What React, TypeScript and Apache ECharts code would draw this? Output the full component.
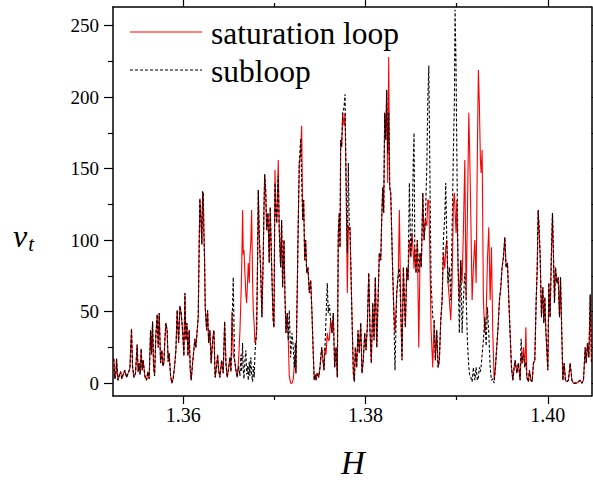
import React, { useEffect, useRef } from "react";
import * as echarts from "echarts";

const H = [
  1.35239, 1.3525, 1.35261, 1.35269, 1.35283, 1.35297, 1.35313, 1.35327, 1.35341, 1.3536,
  1.35379, 1.35396, 1.35415, 1.35433, 1.35444, 1.35459, 1.35477, 1.35495, 1.35506, 1.35517,
  1.35528, 1.35539, 1.3555, 1.35561, 1.35579, 1.35598, 1.35612, 1.35627, 1.35642, 1.35653,
  1.35664, 1.35675, 1.35686, 1.357, 1.35715, 1.35726, 1.35737, 1.35752, 1.35766, 1.35777,
  1.35788, 1.35799, 1.3581, 1.35824, 1.35835, 1.35846, 1.35862, 1.35876, 1.3589, 1.35906,
  1.3592, 1.35934, 1.3595, 1.35964, 1.35978, 1.35993, 1.36008, 1.36019, 1.3603, 1.36041,
  1.36052, 1.36066, 1.36077, 1.36088, 1.36103, 1.36117, 1.36128, 1.36139, 1.36154, 1.36165,
  1.36176, 1.36183, 1.36194, 1.36205, 1.36213, 1.3622, 1.36227, 1.36235, 1.36242, 1.36257,
  1.36268, 1.36279, 1.36293, 1.36307, 1.36323, 1.36337, 1.36351, 1.36367, 1.36378, 1.36389,
  1.36403, 1.36422, 1.36439, 1.36455, 1.36469, 1.36483, 1.36498, 1.36513, 1.36524, 1.36535,
  1.36549, 1.36564, 1.36579, 1.36593, 1.36608, 1.36623, 1.36634, 1.36641, 1.36652, 1.36659,
  1.36667, 1.36677, 1.36688, 1.36696, 1.36707, 1.36714, 1.36725, 1.36732, 1.36743, 1.36751,
  1.36762, 1.36769, 1.3678, 1.36787, 1.36798, 1.36806, 1.36817, 1.36824, 1.36835, 1.3685,
  1.36864, 1.36878, 1.36886, 1.36894, 1.36905, 1.36916, 1.3693, 1.36944, 1.36955, 1.36971,
  1.36982, 1.36988, 1.36996, 1.37007, 1.37018, 1.37026, 1.37032, 1.37043, 1.37054, 1.37069,
  1.3708, 1.37091, 1.37106, 1.37117, 1.37128, 1.37142, 1.37153, 1.37164, 1.37179, 1.37194,
  1.37208, 1.37219, 1.3723, 1.37237, 1.37252, 1.37263, 1.37274, 1.37289, 1.373, 1.37311,
  1.37322, 1.37333, 1.37344, 1.37355, 1.37369, 1.37384, 1.37399, 1.37413, 1.37427, 1.37438,
  1.37449, 1.37457, 1.37471, 1.37487, 1.37501, 1.3752, 1.37531, 1.37545, 1.37556, 1.37567,
  1.37581, 1.37592, 1.37603, 1.37618, 1.37633, 1.37647, 1.37662, 1.37677, 1.37691, 1.37702,
  1.37713, 1.37721, 1.37728, 1.37739, 1.3775, 1.37765, 1.37776, 1.37786, 1.37801, 1.37812,
  1.37823, 1.3783, 1.37849, 1.37867, 1.37878, 1.37889, 1.37904, 1.37918, 1.37932, 1.37948,
  1.37962, 1.37976, 1.37992, 1.38006, 1.3802, 1.38036, 1.3805, 1.38064, 1.3808, 1.38094,
  1.38108, 1.38124, 1.38138, 1.38152, 1.38168, 1.38178, 1.38189, 1.382, 1.38211, 1.38222,
  1.38233, 1.38244, 1.38255, 1.38266, 1.38277, 1.38288, 1.38299, 1.3831, 1.38324, 1.38343,
  1.38361, 1.38372, 1.38387, 1.38401, 1.38416, 1.38427, 1.38438, 1.38453, 1.38467, 1.38482,
  1.38497, 1.38511, 1.38525, 1.38533, 1.38541, 1.38555, 1.38569, 1.38585, 1.38599, 1.38613,
  1.38629, 1.38643, 1.38657, 1.38673, 1.38684, 1.38695, 1.38709, 1.3872, 1.38738, 1.38753,
  1.38767, 1.38782, 1.38797, 1.38811, 1.38826, 1.38841, 1.38855, 1.3887, 1.38881, 1.38892,
  1.38906, 1.38921, 1.38936, 1.3895, 1.38965, 1.38976, 1.38983, 1.38994, 1.39002, 1.39016,
  1.3903, 1.39046, 1.3906, 1.39074, 1.3909, 1.39104, 1.39118, 1.39134, 1.39145, 1.39156,
  1.3917, 1.39184, 1.392, 1.39214, 1.39228, 1.39239, 1.3925, 1.39261, 1.39269, 1.3928,
  1.39294, 1.39309, 1.39324, 1.39338, 1.39353, 1.39368, 1.39382, 1.39397, 1.39412, 1.39426,
  1.39441, 1.39455, 1.3947, 1.39485, 1.39499, 1.39514, 1.39529, 1.39543, 1.39558, 1.39573,
  1.39587, 1.39602, 1.39617, 1.39631, 1.39642, 1.39661, 1.39678, 1.39697, 1.39708, 1.39719,
  1.39733, 1.39749, 1.3976, 1.39771, 1.39788, 1.39799, 1.39815, 1.39829, 1.39843, 1.39858,
  1.39873, 1.39884, 1.39895, 1.39906, 1.39917, 1.39931, 1.39946, 1.39957, 1.39968, 1.39979,
  1.3999, 1.40001, 1.40012, 1.40026, 1.40041, 1.40052, 1.40063, 1.40074, 1.40085, 1.401,
  1.40114, 1.40129, 1.4014, 1.40155, 1.40166, 1.4018, 1.40194, 1.4021, 1.40227, 1.40246,
  1.40265, 1.40282, 1.40301, 1.4032, 1.40337, 1.40356, 1.40375, 1.40392, 1.40411, 1.40422,
  1.40436, 1.40451, 1.40466, 1.4048,
];

const saturationLoop = [
  17, 3, 6, 17, 2, 5, 8, 3, 6, 9,
  4, 7, 10, 38, 12, 4, 7, 27, 8, 14,
  6, 24, 9, 16, 5, 2, 8, 3, 37, 20,
  43, 12, 5, 33, 48, 25, 49, 14, 23, 12,
  14, 30, 42, 37, 15, 21, 5, 0, 3, 12,
  23, 51, 28, 54, 49, 37, 19, 63, 30, 42,
  19, 37, 10, 2, 14, 23, 31, 25, 37, 46,
  98, 129, 116, 97, 134, 133, 107, 85, 53, 37,
  51, 28, 37, 14, 30, 37, 4, 12, 20, 9,
  4, 16, 7, 43, 14, 4, 10, 18, 8, 50,
  20, 16, 9, 4, 16, 37, 60, 77, 121, 90,
  93, 77, 62, 56, 72, 84, 70, 88, 100, 121,
  70, 51, 40, 28, 30, 37, 90, 135, 102, 79,
  46, 88, 120, 146, 135, 107, 119, 84, 123, 81,
  55, 44, 39, 149, 120, 112, 123, 156, 107, 81,
  114, 67, 100, 60, 35, 49, 30, 5, 0, 0,
  3, 12, 20, 7, 67, 114, 154, 160, 180, 114,
  128, 86, 100, 77, 81, 63, 72, 49, 21, 2,
  6, 2, 7, 4, 11, 25, 18, 9, 25, 20,
  35, 30, 30, 44, 35, 49, 11, 25, 4, 105,
  119, 95, 170, 165, 189, 180, 189, 147, 63, 110,
  107, 109, 55, 7, 1, 25, 11, 37, 21, 42,
  7, 16, 35, 23, 39, 77, 37, 14, 56, 30,
  74, 25, 58, 91, 86, 114, 137, 119, 189, 170,
  205, 140, 228, 137, 133, 105, 77, 53, 35, 63,
  77, 121, 53, 16, 81, 58, 39, 81, 72, 100,
  88, 105, 90, 80, 95, 77, 100, 25, 91, 81,
  133, 100, 114, 110, 128, 128, 81, 37, 11, 44,
  16, 37, 11, 16, 44, 58, 91, 80, 95, 100,
  70, 58, 44, 70, 125, 133, 120, 105, 128, 81,
  58, 86, 70, 105, 156, 58, 116, 189, 156, 116,
  58, 81, 100, 70, 163, 219, 194, 156, 147, 163,
  58, 35, 46, 86, 109, 58, 95, 35, 2, 11,
  26, 39, 58, 67, 81, 88, 102, 81, 84, 58,
  35, 11, 2, 11, 16, 7, 14, 2, 20, 14,
  25, 11, 39, 4, 1, 9, 2, 1, 14, 16,
  58, 79, 121, 107, 88, 46, 67, 42, 60, 37,
  23, 9, 70, 46, 93, 119, 88, 56, 81, 70,
  74, 46, 74, 32, 2, 14, 2, 1, 2, 14,
  2, 0, 0, 0, 1, 2, 0, 2, 25, 14,
  28, 18, 62, 14,
];

const subloop = [
  17, 3, 6, 17, 2, 5, 8, 3, 6, 9,
  4, 7, 10, 38, 12, 4, 7, 27, 8, 14,
  6, 24, 9, 16, 5, 2, 8, 3, 37, 20,
  43, 12, 5, 33, 48, 25, 49, 14, 23, 12,
  14, 30, 42, 37, 15, 21, 5, 0, 3, 12,
  23, 51, 28, 54, 49, 37, 19, 63, 30, 42,
  19, 37, 10, 2, 14, 23, 31, 25, 37, 46,
  98, 129, 116, 97, 134, 133, 107, 85, 53, 37,
  51, 28, 37, 14, 30, 37, 4, 12, 20, 9,
  4, 16, 7, 43, 14, 4, 10, 18, 8, 35,
  74, 16, 9, 4, 12, 5, 20, 8, 28, 10,
  3, 16, 23, 6, 12, 2, 15, 5, 18, 6,
  1, 12, 4, 20, 30, 37, 90, 135, 102, 79,
  46, 88, 120, 146, 135, 107, 119, 84, 123, 81,
  55, 44, 39, 140, 120, 112, 123, 145, 107, 81,
  114, 67, 100, 60, 35, 49, 30, 51, 18, 35,
  25, 11, 28, 7, 67, 114, 154, 171, 142, 114,
  128, 86, 100, 77, 81, 63, 72, 49, 21, 2,
  6, 2, 7, 4, 11, 25, 18, 9, 25, 45,
  70, 49, 55, 44, 35, 49, 11, 25, 4, 105,
  119, 95, 170, 165, 189, 193, 202, 147, 91, 154,
  107, 109, 55, 7, 1, 25, 11, 37, 21, 42,
  7, 16, 35, 23, 39, 77, 37, 14, 56, 30,
  74, 25, 58, 91, 86, 114, 137, 119, 189, 170,
  205, 161, 189, 137, 133, 105, 77, 53, 9, 63,
  77, 80, 53, 16, 81, 58, 39, 81, 72, 140,
  88, 105, 156, 175, 95, 77, 100, 77, 91, 81,
  133, 100, 114, 151, 198, 222, 133, 70, 46, 44,
  16, 37, 11, 16, 44, 58, 100, 116, 140, 100,
  70, 81, 58, 105, 163, 198, 261, 221, 163, 81,
  35, 86, 35, 58, 77, 63, 30, 11, 5, 4,
  1, 11, 2, 11, 2, 4, 11, 8, 12, 20,
  30, 46, 26, 53, 35, 11, 2, 3, 0, 11,
  26, 39, 58, 67, 81, 88, 102, 81, 84, 58,
  35, 11, 2, 11, 16, 7, 14, 2, 31, 14,
  20, 11, 15, 4, 1, 9, 2, 1, 14, 16,
  58, 79, 121, 107, 88, 46, 67, 42, 60, 37,
  23, 9, 70, 46, 93, 119, 88, 56, 81, 70,
  74, 46, 74, 32, 2, 14, 2, 1, 2, 14,
  2, 0, 0, 0, 1, 2, 0, 2, 25, 14,
  28, 18, 62, 14,
];

const seriesNames = ["saturation loop", "subloop"];
const xMajorTicks = [1.36, 1.38, 1.4];
const xTickLabels = ["1.36", "1.38", "1.40"];
const xMinorTicks = [1.37, 1.39];
const yMajorTicks = [0, 50, 100, 150, 200, 250];
const yTickLabels = ["0", "50", "100", "150", "200", "250"];
const yMinorTicks = [25, 75, 125, 175, 225];

const X_MIN = 1.3523;
const X_MAX = 1.4048;
const Y_MIN = -9;
const Y_MAX = 263;

const FONT = "Liberation Serif";

function makeX(position: string, ticks: number[], len: number, line: boolean) {
  return {
    type: "value",
    position,
    min: X_MIN,
    max: X_MAX,
    axisLine: { show: line, onZero: false, lineStyle: { color: "#000", width: 1.5 } },
    axisTick: { show: true, inside: false, length: len, customValues: ticks, lineStyle: { color: "#000", width: 1.2 } },
    axisLabel: { show: false },
    splitLine: { show: false },
  };
}

function makeY(position: string, ticks: number[], len: number, line: boolean) {
  return {
    type: "value",
    position,
    min: Y_MIN,
    max: Y_MAX,
    axisLine: { show: line, onZero: false, lineStyle: { color: "#000", width: 1.5 } },
    axisTick: { show: true, inside: false, length: len, customValues: ticks, lineStyle: { color: "#000", width: 1.2 } },
    axisLabel: { show: false },
    splitLine: { show: false },
  };
}

export default function App() {
  const ref = useRef<HTMLDivElement>(null);
  useEffect(() => {
    document.body.style.margin = "0";
    if (!ref.current) return;
    const chart = echarts.init(ref.current, undefined, { renderer: "svg" });
    chart.setOption({
      animation: false,
      backgroundColor: "#fff",
      textStyle: { fontFamily: FONT },
      grid: { left: 113, right: 1.5, top: 7, bottom: 85 },
      xAxis: [
        makeX("bottom", xMajorTicks, 8, true),
        makeX("bottom", xMinorTicks, 4, false),
        makeX("top", xMajorTicks, 8, true),
        makeX("top", xMinorTicks, 4, false),
      ],
      yAxis: [
        makeY("left", yMajorTicks, 9, true),
        makeY("left", yMinorTicks, 5, false),
        makeY("right", yMajorTicks, 9, true),
        makeY("right", yMinorTicks, 5, false),
      ],
      series: [
        {
          name: seriesNames[0],
          type: "line",
          xAxisIndex: 0,
          yAxisIndex: 0,
          symbol: "none",
          showSymbol: false,
          lineStyle: { color: "#ff0000", width: 1.1 },
          itemStyle: { color: "#ff0000" },
          data: H.map((h, i) => [h, saturationLoop[i]]),
        },
        {
          name: seriesNames[1],
          type: "line",
          xAxisIndex: 0,
          yAxisIndex: 0,
          symbol: "none",
          showSymbol: false,
          lineStyle: { color: "#000", width: 1.1, type: [3, 2] },
          itemStyle: { color: "#000" },
          data: H.map((h, i) => [h, subloop[i]]),
        },
      ],
    });

    const grid = { left: 113, bottom: 481 - 85 };
    const xLabelEls = xMajorTicks.map((v, i) => {
      const px = chart.convertToPixel({ xAxisIndex: 0 }, v) as number;
      return {
        type: "text",
        x: px,
        y: grid.bottom + 9,
        style: { text: xTickLabels[i], fontSize: 20, fontFamily: FONT, fill: "#000", align: "center", verticalAlign: "top" },
      };
    });
    const yLabelEls = yMajorTicks.map((v, i) => {
      const py = chart.convertToPixel({ yAxisIndex: 0 }, v) as number;
      return {
        type: "text",
        x: grid.left - 14,
        y: py,
        style: { text: yTickLabels[i], fontSize: 19, fontFamily: FONT, fill: "#000", align: "right", verticalAlign: "middle" },
      };
    });

    chart.setOption({
      graphic: [
        ...xLabelEls,
        ...yLabelEls,
        {
          type: "line",
          shape: { x1: 130, y1: 32, x2: 202, y2: 32 },
          style: { stroke: "#ff0000", lineWidth: 1.2 },
        },
        {
          type: "line",
          shape: { x1: 130, y1: 70, x2: 202, y2: 70 },
          style: { stroke: "#000", lineWidth: 1.1, lineDash: [3, 2] },
        },
        {
          type: "text",
          x: 211,
          y: 33,
          style: { text: seriesNames[0], fontSize: 31.5, fontFamily: FONT, fill: "#000", verticalAlign: "middle" },
        },
        {
          type: "text",
          x: 211,
          y: 71,
          style: { text: seriesNames[1], fontSize: 31.5, fontFamily: FONT, fill: "#000", verticalAlign: "middle" },
        },
        {
          type: "text",
          x: 13,
          y: 236,
          style: {
            text: "{v|v}{t|t}",
            verticalAlign: "middle",
            rich: {
              v: { fontSize: 32, fontStyle: "italic", fontFamily: FONT, fill: "#000" },
              t: { fontSize: 21, fontStyle: "italic", fontFamily: FONT, fill: "#000", padding: [16, 0, 0, 1] },
            },
          },
        },
        {
          type: "text",
          x: 353,
          y: 463,
          style: {
            text: "H",
            fontSize: 33,
            fontStyle: "italic",
            fontFamily: FONT,
            fill: "#000",
            align: "center",
            verticalAlign: "middle",
          },
        },
      ],
    });
    return () => chart.dispose();
  }, []);
  return <div ref={ref} style={{ width: 593, height: 481 }} />;
}
